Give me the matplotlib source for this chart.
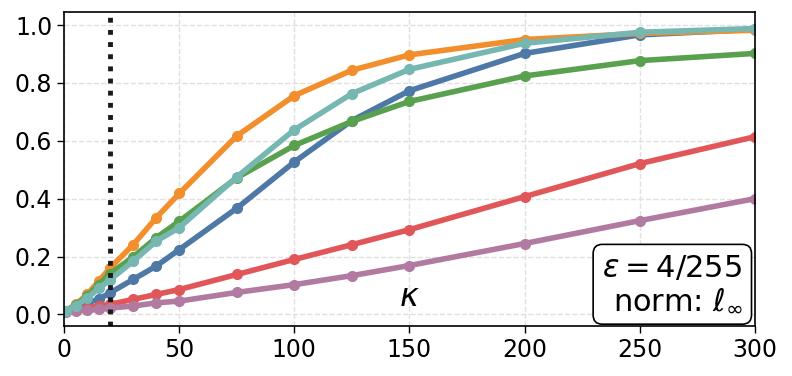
import matplotlib
matplotlib.use("Agg")
import matplotlib.pyplot as plt

kappa = [1, 5, 10, 15, 20, 30, 40, 50, 75, 100, 125, 150, 200, 250, 300]

blue = [0.012, 0.025, 0.040, 0.052, 0.075, 0.121, 0.167, 0.224, 0.367, 0.527, 0.670, 0.773, 0.902, 0.966, 0.985]
orange = [0.013, 0.035, 0.069, 0.115, 0.161, 0.241, 0.334, 0.418, 0.617, 0.756, 0.844, 0.897, 0.950, 0.971, 0.982]
red = [0.011, 0.018, 0.022, 0.029, 0.035, 0.052, 0.069, 0.086, 0.138, 0.190, 0.241, 0.293, 0.407, 0.521, 0.614]
green = [0.013, 0.032, 0.063, 0.103, 0.141, 0.199, 0.265, 0.322, 0.472, 0.584, 0.667, 0.736, 0.824, 0.877, 0.902]
purple = [0.010, 0.012, 0.014, 0.017, 0.022, 0.029, 0.040, 0.046, 0.076, 0.103, 0.134, 0.169, 0.245, 0.324, 0.400]
teal = [0.012, 0.030, 0.057, 0.090, 0.120, 0.184, 0.253, 0.300, 0.475, 0.638, 0.763, 0.847, 0.937, 0.975, 0.988]

series = [
    (blue, "#4E79A7"),
    (orange, "#F28E2B"),
    (red, "#E15759"),
    (green, "#59A14F"),
    (purple, "#B07AA1"),
    (teal, "#76B7B2"),
]

fig = plt.figure(figsize=(7.92, 3.76), dpi=100)
ax = fig.add_axes([0.081, 0.133, 0.872, 0.835])

for vals, c in series:
    ax.plot(kappa, vals, color=c, lw=4, marker="o", ms=7)

ax.axvline(20, color="#1a1a1a", ls=(0, (1, 1.5)), lw=3.5)

ax.set_xlim(0, 300)
ax.set_ylim(-0.04, 1.045)
ax.set_xticks([0, 50, 100, 150, 200, 250, 300])
ax.set_yticks([0.0, 0.2, 0.4, 0.6, 0.8, 1.0])
ax.tick_params(labelsize=17, length=5, width=1)
ax.grid(True, ls="--", color="#e0e0e0", lw=1)
ax.set_axisbelow(True)
for s in ax.spines.values():
    s.set_color("black")
    s.set_linewidth(1.2)

ax.text(0.5, 0.04, r"$\kappa$", transform=ax.transAxes, ha="center", va="bottom", fontsize=23)

ax.text(0.982, 0.035, "$\\varepsilon = 4/255$\nnorm: $\\ell_\\infty$", transform=ax.transAxes,
        ha="right", va="bottom", fontsize=22, multialignment="right", linespacing=1.15,
        bbox=dict(boxstyle="round,pad=0.3", fc="white", ec="black", lw=1.2))

fig.savefig("out.png", dpi=100)
